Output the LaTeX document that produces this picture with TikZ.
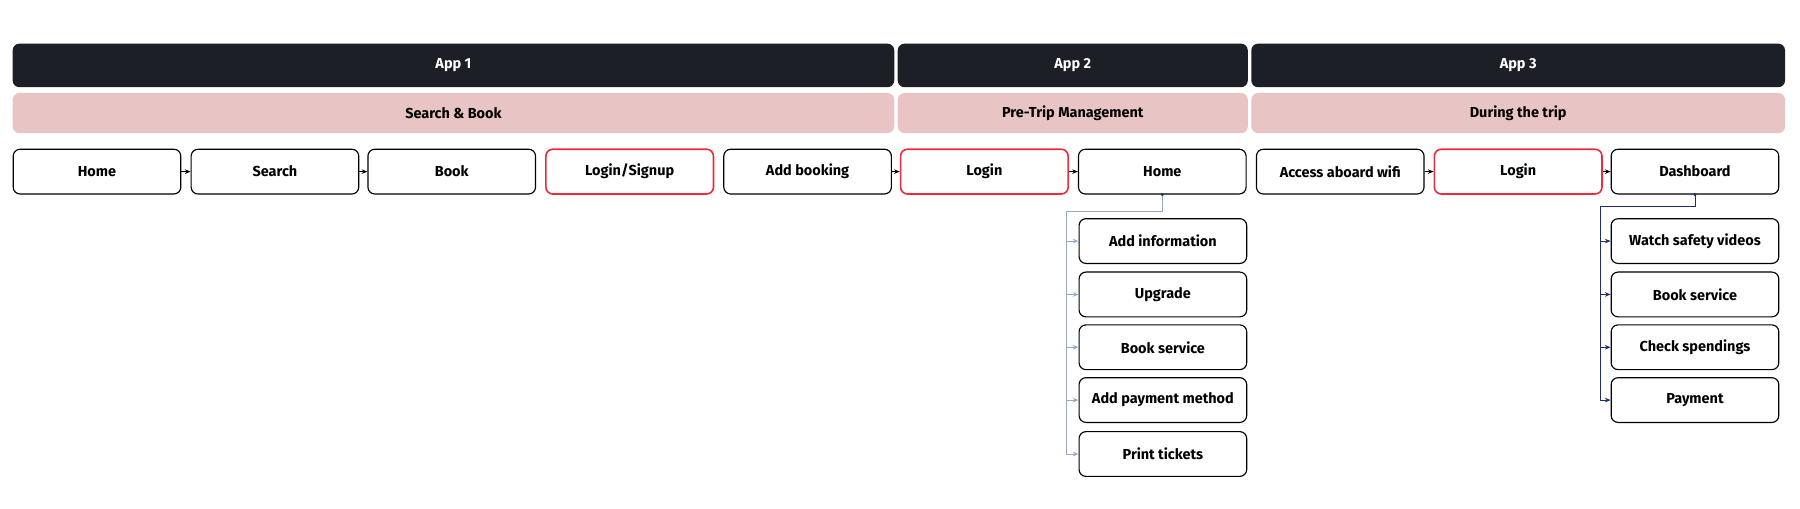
\documentclass[tikz,border=0pt]{standalone}
\usepackage{fontspec}
\setmainfont{Fira Sans}
\usetikzlibrary{positioning,arrows.meta}
\definecolor{barDark}{HTML}{1C1F26}
\definecolor{barPink}{HTML}{E8C4C4}
\definecolor{loginRed}{HTML}{EE2A3C}
\definecolor{treeGrey}{HTML}{9AA6C4}
\definecolor{treeNavy}{HTML}{1F2F6E}
\begin{document}
\begin{tikzpicture}[x=0.5pt,y=0.5pt,yscale=-1,
  box/.style={draw=black,line width=0.5pt,rounded corners=3pt,fill=white,minimum width=73pt,minimum height=19.5pt,inner sep=0pt,font=\fontsize{6.3}{7}\selectfont\bfseries},
  redbox/.style={box,draw=loginRed,line width=0.7pt},
  appbar/.style={fill=barDark,rounded corners=3pt,minimum height=19pt,inner sep=0pt,text=white,font=\fontsize{6.3}{7}\selectfont\bfseries},
  phasebar/.style={fill=barPink,rounded corners=3pt,minimum height=17.5pt,inner sep=0pt,font=\fontsize{6.3}{7}\selectfont\bfseries},
  flow/.style={-{Stealth[length=2.5pt,width=2pt]},line width=0.4pt},
  branch/.style={-{Stealth[length=2.5pt,width=2pt]},line width=0.4pt}]
\useasboundingbox (0,0) rectangle (1568,443);

% App bars
\node[appbar,minimum width=384pt] (app1) at (395,57) {App 1};
\node[appbar,minimum width=152.5pt] (app2) at (934.5,57) {App 2};
\node[appbar,minimum width=232.5pt] (app3) at (1322.5,57) {App 3};
% Phase bars
\node[phasebar,minimum width=384pt] (phase1) at (395,98.5) {Search \& Book};
\node[phasebar,minimum width=152.5pt] (phase2) at (934.5,98.5) {Pre-Trip Management};
\node[phasebar,minimum width=232.5pt] (phase3) at (1322.5,98.5) {During the trip};

% Main row
\node[box] (home) at (84.5,149.5) {Home};
\node[box] (search) at (239.5,149.5) {Search};
\node[box] (book) at (393.5,149.5) {Book};
\node[redbox] (signup) at (548.5,149.5) {Login/Signup};
\node[box] (addbooking) at (703.5,149.5) {Add booking};
\node[redbox] (login2) at (857.5,149.5) {Login};
\node[box] (home2) at (1012.5,149.5) {Home};
\node[box] (wifi) at (1167.5,149.5) {Access aboard wifi};
\node[redbox] (login3) at (1322.5,149.5) {Login};
\node[box] (dashboard) at (1476.5,149.5) {Dashboard};

\draw[flow] (home) -- (search);
\draw[flow] (search) -- (book);
\draw[flow] (addbooking) -- (login2);
\draw[flow] (login2) -- (home2);
\draw[flow] (wifi) -- (login3);
\draw[flow] (login3) -- (dashboard);

% Home menu
\node[box] (info) at (1013,210) {Add information};
\node[box] (upgrade) at (1013,256.5) {Upgrade};
\node[box] (service2) at (1013,302.5) {Book service};
\node[box] (payment2) at (1013,348.5) {Add payment method};
\node[box] (tickets) at (1013,395.5) {Print tickets};
\coordinate (hometurn) at (929,184);
\foreach \n in {info,upgrade,service2,payment2,tickets}
  \draw[branch,treeGrey] (home2.south) |- (hometurn) |- (\n.west);
\fill[treeNavy] (home2.south) circle (1.5);

% Dashboard menu
\node[box] (videos) at (1476.5,210) {Watch safety videos};
\node[box] (service3) at (1476.5,256.5) {Book service};
\node[box] (spendings) at (1476.5,302.5) {Check spendings};
\node[box] (payment3) at (1476.5,348.5) {Payment};
\coordinate (dashturn) at (1394,180);
\foreach \n in {videos,service3,spendings,payment3}
  \draw[branch,treeNavy] (dashboard.south) |- (dashturn) |- (\n.west);
\fill[treeNavy] (dashboard.south) circle (1.5);
\end{tikzpicture}
\end{document}
